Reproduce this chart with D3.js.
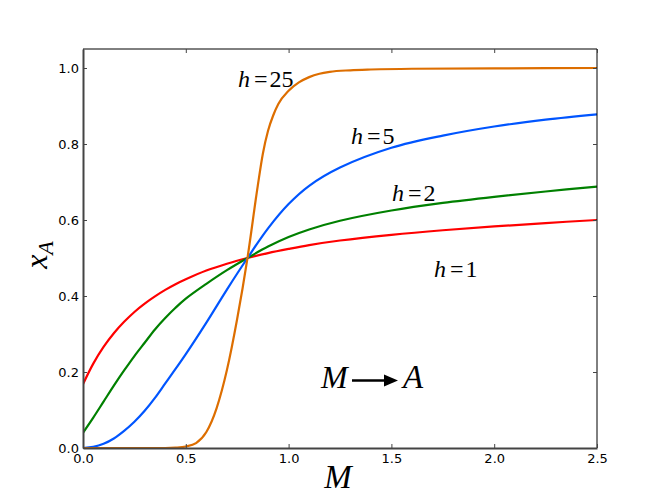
<!DOCTYPE html>
<html><head><meta charset="utf-8">
<script src="https://cdn.jsdelivr.net/npm/d3@7"></script>
<style>body{margin:0;background:#fff}</style>
</head><body><svg id="c" width="664" height="498"></svg>
<script>
// ---- data ----
const mGrid = [0,0.05,0.1,0.15,0.2,0.25,0.3,0.35,0.4,0.45,0.5,0.6,0.7,0.8,0.9,1.0,1.1,1.25,1.5,1.75,2.0,2.25,2.5];
const xA_h1 = [0.168,0.222,0.266,0.302,0.332,0.358,0.380,0.399,0.416,0.431,0.444,0.467,0.485,0.500,0.513,0.524,0.534,0.546,0.561,0.573,0.583,0.592,0.600];
const xA_h2 = [0.040,0.080,0.122,0.164,0.204,0.242,0.277,0.312,0.342,0.369,0.393,0.432,0.468,0.500,0.530,0.555,0.575,0.598,0.625,0.645,0.661,0.675,0.688];
const xA_h5 = [0.000,0.003,0.011,0.025,0.045,0.069,0.098,0.132,0.170,0.208,0.247,0.330,0.417,0.500,0.578,0.642,0.690,0.738,0.790,0.822,0.846,0.864,0.878];
const mGrid25 = [0,0.4,0.45,0.5,0.55,0.6,0.65,0.7,0.75,0.8,0.85,0.875,0.9,0.925,0.95,1.0,1.05,1.1,1.15,1.2,1.3,1.4,1.6,2.0,2.5];
const xA_h25 = [0,0,0.001,0.004,0.013,0.042,0.105,0.205,0.340,0.500,0.690,0.775,0.835,0.875,0.905,0.940,0.962,0.976,0.985,0.990,0.994,0.996,0.998,0.999,1.0];
const xTicks = [0,0.5,1.0,1.5,2.0,2.5];
const yTicks = [0,0.2,0.4,0.6,0.8,1.0];
const colors = ["#ff0000","#008000","#0055ff","#dd6e00"];

const svg = d3.select("#c");
const L=83,R=597,T=49,B=448;
const x = d3.scaleLinear().domain([0,2.5]).range([L,R]);
const y = d3.scaleLinear().domain([0,1.05]).range([B,T]);

svg.append("clipPath").attr("id","clip").append("rect")
  .attr("x",L).attr("y",T).attr("width",R-L).attr("height",B-T);

const series = [
  {m:mGrid, v:xA_h1, c:colors[0], curve:d3.curveCatmullRom.alpha(0.5)},
  {m:mGrid, v:xA_h2, c:colors[1], curve:d3.curveCatmullRom.alpha(0.5)},
  {m:mGrid, v:xA_h5, c:colors[2], curve:d3.curveCatmullRom.alpha(0.5)},
  {m:mGrid25, v:xA_h25, c:colors[3], curve:d3.curveMonotoneX}
];
const g = svg.append("g").attr("clip-path","url(#clip)");
series.forEach(s=>{
  const line = d3.line().x(d=>x(d[0])).y(d=>y(d[1])).curve(s.curve);
  g.append("path").datum(s.m.map((m,i)=>[m,s.v[i]]))
   .attr("d",line).attr("fill","none").attr("stroke",s.c).attr("stroke-width",2.2);
});

// frame
svg.append("line").attr("x1",L).attr("x2",R).attr("y1",T).attr("y2",T).attr("stroke","#000").attr("stroke-width",1);
svg.append("line").attr("x1",R).attr("x2",R).attr("y1",T).attr("y2",B).attr("stroke","#000").attr("stroke-width",1);

// axes
const fmt = d3.format(".1f");
const ax = svg.append("g").attr("transform",`translate(0,${B})`)
  .call(d3.axisBottom(x).tickValues(xTicks).tickFormat(fmt).tickSizeInner(-4).tickSizeOuter(0).tickPadding(6));
const ay = svg.append("g").attr("transform",`translate(${L},0)`)
  .call(d3.axisLeft(y).tickValues(yTicks).tickFormat(fmt).tickSizeInner(-4).tickSizeOuter(0).tickPadding(4));
[ax,ay].forEach(a=>{
  a.select(".domain").attr("stroke","#444").attr("stroke-width",2);
  a.selectAll(".tick line").attr("stroke","#444");
  a.selectAll("text").attr("font-family","DejaVu Sans").attr("font-size",13).attr("fill","#000");
});
// top and right ticks
svg.append("g").attr("transform",`translate(0,${T})`)
  .call(d3.axisTop(x).tickValues(xTicks).tickFormat("").tickSizeInner(-4).tickSizeOuter(0))
  .call(a=>{a.select(".domain").remove(); a.selectAll(".tick line").attr("stroke","#444");});
svg.append("g").attr("transform",`translate(${R},0)`)
  .call(d3.axisRight(y).tickValues(yTicks).tickFormat("").tickSizeInner(-4).tickSizeOuter(0))
  .call(a=>{a.select(".domain").remove(); a.selectAll(".tick line").attr("stroke","#444");});

// curve labels
const serif = "Liberation Serif";
function hLabel(px,py,num){
  const t = svg.append("text").attr("x",px).attr("y",py).attr("font-family",serif).attr("font-size",24).attr("fill","#000");
  t.append("tspan").attr("font-style","italic").text("h");
  t.append("tspan").attr("dx",4).text("=");
  t.append("tspan").attr("dx",2).text(num);
}
hLabel(238,87,"25");
hLabel(351,144,"5");
hLabel(392,201,"2");
hLabel(434,277,"1");

// M -> A
svg.append("text").attr("x",321).attr("y",388).attr("font-family",serif).attr("font-style","italic")
  .attr("font-size",32).attr("fill","#000").text("M");
svg.append("line").attr("x1",352).attr("x2",386).attr("y1",380.5).attr("y2",380.5).attr("stroke","#000").attr("stroke-width",2.5);
svg.append("path").attr("d","M384,374.5 L398,380.5 L384,386.5 Z").attr("fill","#000");
svg.append("text").attr("x",403).attr("y",388).attr("font-family",serif).attr("font-style","italic")
  .attr("font-size",33).attr("fill","#000").text("A");

// axis labels
svg.append("text").attr("x",338).attr("y",488).attr("text-anchor","middle").attr("font-family",serif)
  .attr("font-style","italic").attr("font-size",33).attr("fill","#000").text("M");
const yl = svg.append("text").attr("transform","translate(47,255) rotate(-90)").attr("text-anchor","middle")
  .attr("font-family",serif).attr("font-style","italic").attr("font-size",32).attr("fill","#000");
yl.append("tspan").text("x");
yl.append("tspan").attr("font-size",22).attr("dy",6).text("A");
</script></body></html>
